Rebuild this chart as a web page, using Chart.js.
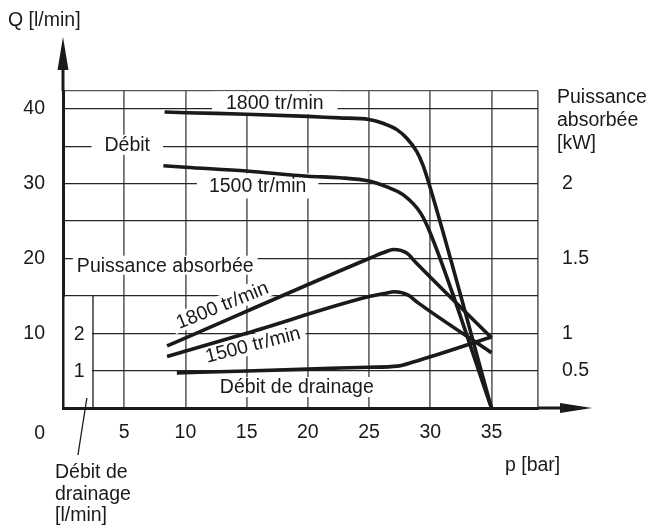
<!DOCTYPE html>
<html>
<head>
<meta charset="utf-8">
<script src="https://cdn.jsdelivr.net/npm/chart.js@4.4.1/dist/chart.umd.min.js"></script>
<style>
  html, body { margin: 0; padding: 0; background: #fff; }
  #wrap { width: 650px; height: 531px; }
</style>
</head>
<body>
<div id="wrap"><canvas id="pumpChart" width="650" height="531"></canvas></div>
<script>
// axis ticks
const pTicks = [0, 5, 10, 15, 20, 25, 30, 35];
const qTicks = [0, 5, 10, 15, 20, 25, 30, 35, 40];
const pMax = 38.8;
const qMax = 42.4;
// right axis (kW) labels and where they sit on the Q scale
const kwLabels = ["0.5", "1", "1.5", "2"];
const kwAtQ = [5, 10, 20, 30];
// drainage sub-axis labels (l/min)
const drainTicks = [1, 2];

// Débit (l/min) vs p (bar)
const debit1800P = [8.3, 10, 15, 20, 22.6, 25, 26.2, 27.3, 28.1, 28.9, 29.4, 29.85, 35];
const debit1800Q = [39.6, 39.5, 39.3, 39.0, 38.8, 38.6, 38.05, 37.2, 36.05, 34.3, 32.5, 30.25, 0];
const debit1500P = [8.2, 10, 15, 20, 22.6, 25, 26.4, 27.8, 29.2, 30.0, 35];
const debit1500Q = [32.4, 32.2, 31.7, 31.0, 30.8, 30.35, 29.6, 28.5, 26.1, 23.4, 0];

// Puissance absorbée, plotted on the Q scale (right axis labels)
const power1800P = [8.5, 25, 26.2, 27.0, 28.1, 28.8, 35];
const power1800Q = [8.3, 20.0, 20.8, 21.2, 20.7, 19.5, 9.4];
const power1500P = [8.5, 15, 25, 26.2, 27.1, 28.2, 28.9, 35];
const power1500Q = [6.9, 10.0, 14.9, 15.3, 15.55, 15.1, 14.2, 7.4];

// Débit de drainage (l/min)
const drainP = [9.3, 15, 20, 22.6, 25, 27.3, 28.6, 35];
const drainQ = [0.94, 0.99, 1.04, 1.07, 1.09, 1.12, 1.23, 1.9];

const INK = "#1a1a1a";
const FAMILY = "'Liberation Sans', Arial, sans-serif";
const FONT = "19.5px " + FAMILY;

const pts = (xs, ys) => xs.map((x, i) => ({ x: x, y: ys[i] }));

function curve(xs, ys, axis) {
  return {
    data: pts(xs, ys),
    yAxisID: axis || "y",
    showLine: true,
    borderColor: INK,
    borderWidth: 3.6,
    pointRadius: 0,
    cubicInterpolationMode: "monotone",
    borderCapStyle: "butt"
  };
}

function textAt(ctx, text, x, y, opts) {
  const o = Object.assign({ angle: 0, padX: 12, boxH: 23, box: false, align: "center" }, opts || {});
  ctx.save();
  ctx.translate(x, y);
  ctx.rotate(o.angle * Math.PI / 180);
  ctx.font = FONT;
  const w = ctx.measureText(text).width;
  if (o.box) {
    ctx.fillStyle = "#fff";
    ctx.fillRect(-w / 2 - o.padX, -o.boxH / 2, w + 2 * o.padX, o.boxH);
  }
  ctx.fillStyle = INK;
  ctx.textAlign = o.align;
  ctx.textBaseline = "middle";
  ctx.fillText(text, 0, 1);
  ctx.restore();
}

const annotations = {
  id: "annotations",
  beforeDatasetsDraw(chart) {
    const { ctx, chartArea: a, scales } = chart;
    const X = v => scales.x.getPixelForValue(v);
    const Y = v => scales.y.getPixelForValue(v);
    const YD = v => scales.yd.getPixelForValue(v);

    // drainage sub-axis: clear grid between main axis and sub-axis
    const subX = X(2.45);
    ctx.save();
    ctx.fillStyle = "#fff";
    ctx.fillRect(a.left + 1.5, Y(15) + 1, subX - a.left - 2.5, a.bottom - Y(15) - 2);
    ctx.strokeStyle = INK;
    ctx.lineWidth = 1.3;
    ctx.beginPath();
    ctx.moveTo(subX, Y(15));
    ctx.lineTo(subX, a.bottom);
    ctx.stroke();
    // leader line to the drainage caption
    ctx.beginPath();
    ctx.moveTo(X(1.95), a.bottom - 10);
    ctx.lineTo(X(1.22), a.bottom + 47);
    ctx.stroke();
    ctx.restore();

    drainTicks.forEach(v => textAt(ctx, String(v), X(1.32), YD(v)));

    textAt(ctx, "Débit", X(5.25), Y(35.2), { box: true, padX: 13, boxH: 20 });
    textAt(ctx, "1800 tr/min", X(17.3), Y(40.8), { box: true, padX: 14, boxH: 23 });
    textAt(ctx, "1500 tr/min", X(15.9), Y(29.7), { box: true, padX: 12, boxH: 25 });
    textAt(ctx, "Puissance absorbée", X(8.35), Y(19.1), { box: true, padX: 4, boxH: 19 });
    textAt(ctx, "1800 tr/min", X(13.0), Y(13.8), { box: true, angle: -22, padX: 5, boxH: 20 });
    textAt(ctx, "1500 tr/min", X(15.5), Y(8.5), { box: true, angle: -14.5, padX: 5, boxH: 20 });
    textAt(ctx, "Débit de drainage", X(19.1), Y(2.8), { box: true, padX: 4, boxH: 20 });
  },
  afterDraw(chart) {
    const { ctx, chartArea: a } = chart;
    ctx.save();
    ctx.fillStyle = INK;
    ctx.strokeStyle = INK;
    ctx.lineWidth = 3;
    // y axis arrow
    ctx.beginPath();
    ctx.moveTo(a.left, a.top);
    ctx.lineTo(a.left, 68);
    ctx.stroke();
    ctx.beginPath();
    ctx.moveTo(a.left, 37);
    ctx.lineTo(a.left + 5.5, 70);
    ctx.lineTo(a.left - 5.5, 70);
    ctx.closePath();
    ctx.fill();
    // x axis arrow
    ctx.beginPath();
    ctx.moveTo(a.right, a.bottom);
    ctx.lineTo(562, a.bottom);
    ctx.stroke();
    ctx.beginPath();
    ctx.moveTo(592, a.bottom);
    ctx.lineTo(560, a.bottom - 5);
    ctx.lineTo(560, a.bottom + 5);
    ctx.closePath();
    ctx.fill();
    ctx.restore();

    const left = { align: "left" };
    textAt(ctx, "Q [l/min]", 8, 20, left);
    textAt(ctx, "p [bar]", 505, 465, left);
    textAt(ctx, "Puissance", 557, 97, left);
    textAt(ctx, "absorbée", 557, 120, left);
    textAt(ctx, "[kW]", 557, 143, left);
    textAt(ctx, "Débit de", 55, 472, left);
    textAt(ctx, "drainage", 55, 494, left);
    textAt(ctx, "[l/min]", 55, 515, left);
    textAt(ctx, "0", 45, 433, { align: "right" });
  }
};

const tickFont = { family: FAMILY, size: 19.5 };

new Chart(document.getElementById("pumpChart"), {
  type: "scatter",
  data: {
    datasets: [
      curve(debit1800P, debit1800Q),
      curve(debit1500P, debit1500Q),
      curve(power1800P, power1800Q),
      curve(power1500P, power1500Q),
      curve(drainP, drainQ, "yd")
    ]
  },
  options: {
    responsive: false,
    animation: false,
    layout: { padding: { top: 91, left: 0, right: 0, bottom: 0 } },
    plugins: { legend: { display: false }, tooltip: { enabled: false } },
    scales: {
      x: {
        type: "linear",
        min: 0,
        max: pMax,
        afterBuildTicks: s => { s.ticks = pTicks.concat([pMax]).map(v => ({ value: v })); },
        afterFit: s => { s.height = 123; },
        grid: { color: "#707070", lineWidth: 1.8, drawTicks: false },
        border: { color: INK, width: 3 },
        ticks: {
          autoSkip: false,
          maxRotation: 0,
          padding: 13,
          color: INK,
          font: tickFont,
          callback: v => (v > 0 && v <= 35 ? String(v) : "")
        }
      },
      y: {
        type: "linear",
        min: 0,
        max: qMax,
        afterBuildTicks: s => { s.ticks = qTicks.concat([qMax]).map(v => ({ value: v })); },
        afterFit: s => { s.width = 63; },
        grid: {
          color: c => (c.tick && c.tick.value === qMax ? "#555" : "#262626"),
          lineWidth: 1.3,
          drawTicks: false
        },
        border: { color: INK, width: 3 },
        ticks: {
          autoSkip: false,
          padding: 18,
          color: INK,
          font: tickFont,
          callback: v => (v > 0 && v % 10 === 0 ? String(v) : "")
        }
      },
      y2: {
        type: "linear",
        position: "right",
        min: 0,
        max: qMax,
        afterBuildTicks: s => { s.ticks = kwAtQ.map(v => ({ value: v })); },
        afterFit: s => { s.width = 112; },
        grid: { display: false, drawTicks: false },
        border: { display: false },
        ticks: {
          autoSkip: false,
          padding: 24,
          color: INK,
          font: tickFont,
          callback: (v, i) => kwLabels[i]
        }
      },
      yd: { type: "linear", display: false, min: 0, max: qMax / 5 }
    }
  },
  plugins: [annotations]
});
</script>
</body>
</html>
